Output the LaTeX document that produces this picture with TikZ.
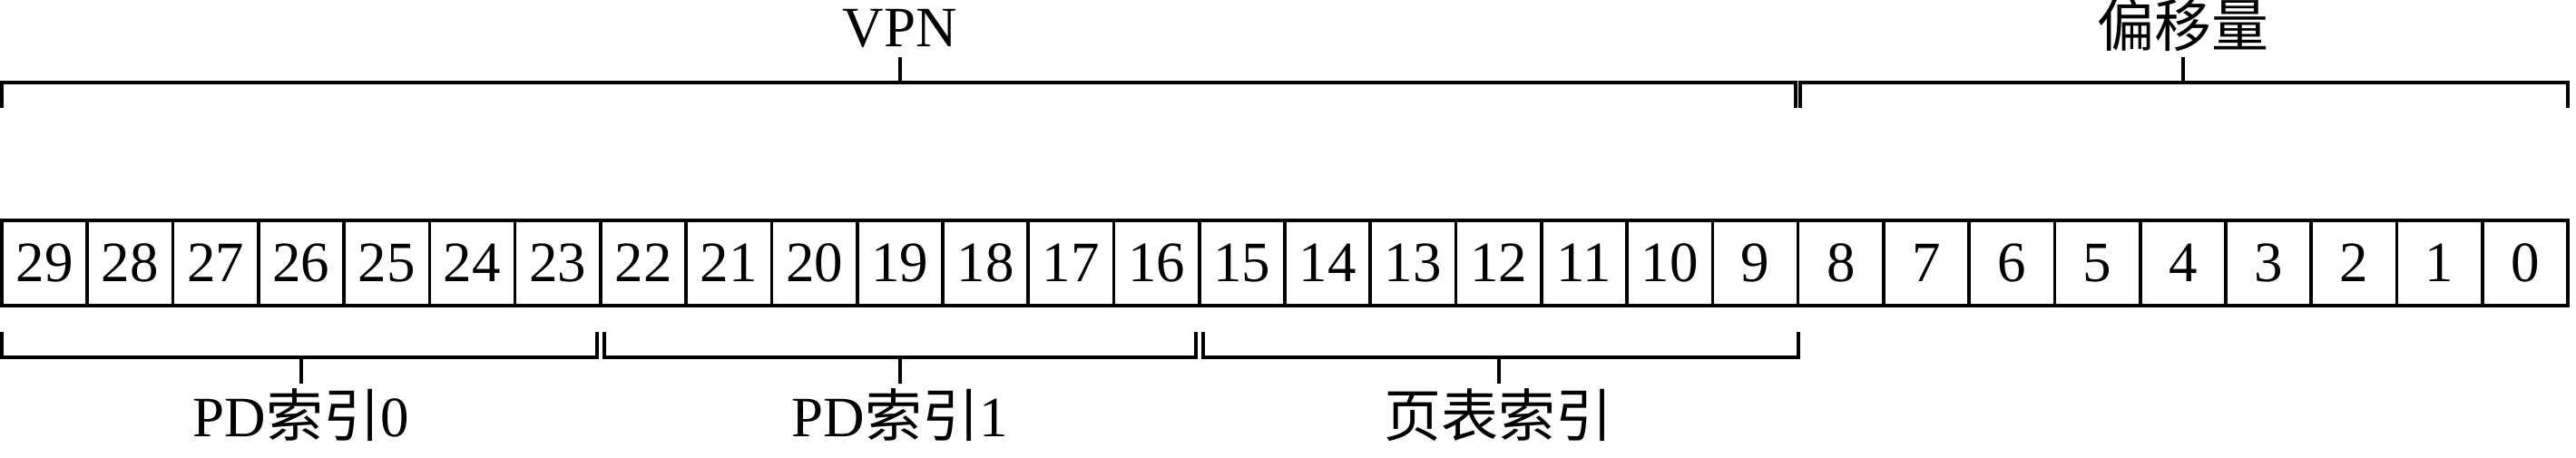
\documentclass[tikz,border=0pt]{standalone}
\usepackage{fontspec}
\setmainfont{Liberation Serif}
\newfontfamily\cjk{Noto Sans CJK SC}
\usepackage{tikz}

\tikzset{
  every node/.style={font=\fontsize{19}{23}\selectfont},
  bitcell/.style={draw, line width=1.1pt, minimum width=1cm, minimum height=1cm, inner sep=0pt},
  brace/.style={line width=1.2pt},
  fieldlabel/.style={anchor=base, inner sep=0pt}
}

\begin{document}
\begin{tikzpicture}
  \useasboundingbox (-0.021,-1.782) rectangle (30.095,3.575);
  % address bits 29..0
  \foreach \b in {29,...,0} {
    \pgfmathsetmacro{\x}{29.5-\b}
    \node[bitcell] (bit\b) at (\x,0.5) {\b};
  }
  % upper fields
  \draw[brace] (0,2.31) -- (0,2.61) -- (20.97,2.61) -- (20.97,2.31);
  \draw[brace] (10.5,2.61) -- (10.5,2.91);
  \node[fieldlabel] (vpn) at (10.5,3.03) {VPN};
  \draw[brace] (21.03,2.31) -- (21.03,2.61) -- (30,2.61) -- (30,2.31);
  \draw[brace] (25.5,2.61) -- (25.5,2.91);
  \node[fieldlabel] (offset) at (25.5,3.03) {\cjk 偏移量};
  % lower fields
  \foreach \a/\c/\m/\name/\lbl in {0/6.955/3.5/pd0/{PD{\cjk 索引}0}, 7.045/13.955/10.5/pd1/{PD{\cjk 索引}1}, 14.045/21/17.5/pt/{\cjk 页表索引}} {
    \draw[brace] (\a,-0.308) -- (\a,-0.605) -- (\c,-0.605) -- (\c,-0.308);
    \draw[brace] (\m,-0.605) -- (\m,-0.912);
    \node[fieldlabel] (\name) at (\m,-1.528) {\lbl};
  }
\end{tikzpicture}
\end{document}
